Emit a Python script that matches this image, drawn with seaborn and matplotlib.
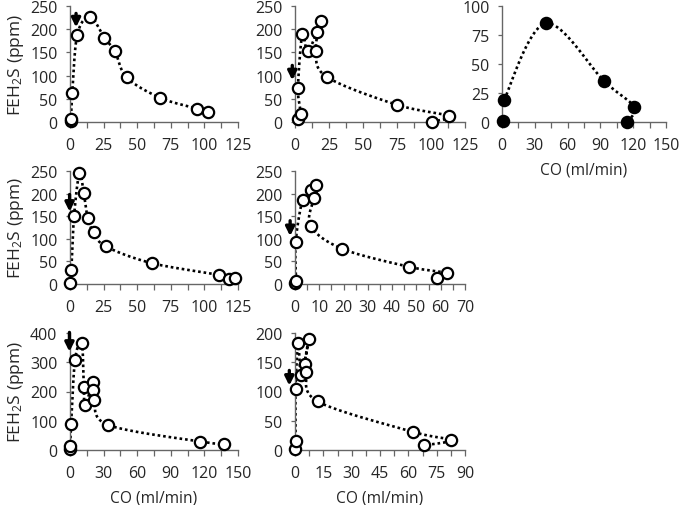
import numpy as np
import matplotlib
matplotlib.use("Agg")
import matplotlib.pyplot as plt
import seaborn as sns
from matplotlib.ticker import MultipleLocator

# data, kept in the order the points are joined
a_co = [0.5, 0.7, 1.7, 5.4, 14.9, 25.5, 33.5, 42.2, 67.2, 94.3, 102.9]
a_h2s = [3, 7, 62, 188, 227, 182, 152, 96, 52, 29, 21]

b_co = [2.2, 4.2, 2.2, 5.4, 9.2, 16.1, 19.0, 15.3, 23.5, 75.0, 113.0, 101.0]
b_h2s = [6, 18, 73, 190, 152, 194, 218, 154, 97, 37, 13, 1]

c_co = [0.6, 2.1, 40.0, 93.7, 120.8, 114.4]
c_h2s = [0.6, 19, 85, 35, 13, 0.3]

d_co = [0.0, 1.0, 3.0, 7.0, 10.2, 13.2, 17.7, 26.7, 61.0, 111.0, 118.5, 123.0]
d_h2s = [2, 32, 150, 245, 202, 145, 114, 83, 46, 20, 12, 14]

e_co = [0.0, 0.4, 0.3, 3.1, 6.4, 8.6, 7.8, 6.4, 19.4, 47.0, 62.5, 58.3]
e_h2s = [2, 7, 94, 186, 208, 219, 191, 129, 78, 38, 24, 13]

f_co = [0.0, 0.2, 1.0, 4.5, 10.5, 12.3, 13.4, 20.6, 20.6, 21.5, 33.8, 116.0, 137.7]
f_h2s = [2, 14, 90, 308, 367, 217, 154, 232, 205, 172, 86, 29, 21]

g_co = [0.0, 0.3, 0.3, 1.7, 3.3, 7.2, 5.2, 5.9, 12.0, 62.4, 82.5, 68.2]
g_h2s = [2, 16, 105, 183, 128, 189, 147, 133, 83, 31, 17, 8]

# arrows: (x, tail y, tip y)
arrows = {
    "a": (4.5, 234, 204),
    "b": (-2.0, 122, 90),
    "d": (-0.3, 198, 160),
    "e": (-2.0, 140, 106),
    "f": (-0.5, 402, 336),
    "g": (-3.0, 136, 110),
}

sns.set_style("white")
plt.rcParams["font.family"] = ["Open Sans", "DejaVu Sans"]
plt.rcParams["mathtext.fontset"] = "custom"
plt.rcParams["mathtext.rm"] = "Open Sans"
plt.rcParams["mathtext.it"] = "Open Sans"


def smooth(x, y, xr, yr, n=20):
    # Excel style smoothed line (Catmull-Rom, done in axis units)
    p = np.column_stack([np.asarray(x, float) / xr, np.asarray(y, float) / yr])
    p = np.vstack([p[0], p, p[-1]])
    out = []
    for i in range(1, len(p) - 2):
        p0, p1, p2, p3 = p[i - 1], p[i], p[i + 1], p[i + 2]
        c1 = p1 + (p2 - p0) / 6
        c2 = p2 - (p3 - p1) / 6
        t = np.linspace(0, 1, n)[:, None]
        seg = (1 - t) ** 3 * p1 + 3 * (1 - t) ** 2 * t * c1 + 3 * (1 - t) * t ** 2 * c2 + t ** 3 * p2
        out.append(seg)
    s = np.vstack(out)
    return s[:, 0] * xr, s[:, 1] * yr


def draw(ax, co, h2s, xmax, xstep, ymax, ystep, filled=False, arrow=None):
    sx, sy = smooth(co, h2s, xmax, ymax)
    sns.lineplot(x=sx, y=sy, ax=ax, color="black", lw=1.9, linestyle=(0, (1, 1.1)),
                 sort=False, estimator=None)
    sns.scatterplot(x=co, y=h2s, ax=ax, s=66, color="black" if filled else "white",
                    edgecolor="black", linewidth=1.6, zorder=3, clip_on=False)
    if arrow is not None:
        x, y0, y1 = arrow
        ax.annotate("", xy=(x, y1), xytext=(x, y0),
                    arrowprops=dict(arrowstyle="-|>", color="black", lw=2.4,
                                    mutation_scale=13, shrinkA=0, shrinkB=0),
                    annotation_clip=False)
    ax.set_xlim(0, xmax)
    ax.set_ylim(0, ymax)
    ax.xaxis.set_major_locator(MultipleLocator(xstep))
    ax.xaxis.set_minor_locator(MultipleLocator(xstep / 2))
    ax.yaxis.set_major_locator(MultipleLocator(ystep))
    for s in ["top", "right"]:
        ax.spines[s].set_visible(False)
    for s in ["left", "bottom"]:
        ax.spines[s].set_color("#666666")
        ax.spines[s].set_linewidth(1.0)
    ax.tick_params(axis="x", which="both", direction="out", length=4, width=0.9,
                   color="#666666", pad=7, labelsize=11.5, bottom=True)
    ax.tick_params(axis="y", which="major", direction="out", length=3, width=0.9,
                   color="#666666", pad=6, labelsize=11.5, left=True)
    ax.set_xlabel("")
    ax.set_ylabel("")


fig = plt.figure(figsize=(6.8, 5.06), dpi=100)

W, H = 680, 506
cols = [(70, 168), (295, 170), (502, 164)]
rows = [(7, 123), (172, 285), (334, 451)]


def add(c, r):
    l, w = cols[c]
    t, b = rows[r]
    return fig.add_axes([l / W, 1 - b / H, w / W, (b - t) / H])


ax1 = add(0, 0)
draw(ax1, a_co, a_h2s, 125, 25, 250, 50, arrow=arrows["a"])
ax2 = add(1, 0)
draw(ax2, b_co, b_h2s, 125, 25, 250, 50, arrow=arrows["b"])
ax3 = add(2, 0)
draw(ax3, c_co, c_h2s, 150, 30, 100, 25, filled=True)
ax4 = add(0, 1)
draw(ax4, d_co, d_h2s, 125, 25, 250, 50, arrow=arrows["d"])
ax5 = add(1, 1)
draw(ax5, e_co, e_h2s, 70, 10, 250, 50, arrow=arrows["e"])
ax6 = add(0, 2)
draw(ax6, f_co, f_h2s, 150, 30, 400, 100, arrow=arrows["f"])
ax7 = add(1, 2)
draw(ax7, g_co, g_h2s, 90, 15, 200, 50, arrow=arrows["g"])

for ax in [ax1, ax4, ax6]:
    ax.set_ylabel("FEH$_2$S (ppm)", fontsize=12.5, labelpad=3)
for ax in [ax3, ax6, ax7]:
    ax.set_xlabel("CO (ml/min)", fontsize=11.2, labelpad=6)

fig.savefig("out.png", dpi=100)
